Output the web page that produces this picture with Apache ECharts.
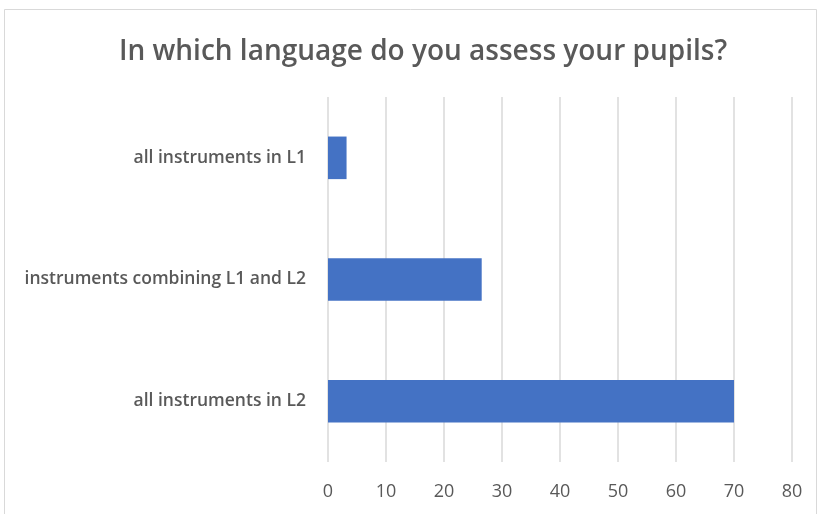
<!DOCTYPE html>
<html><head><meta charset="utf-8">
<script src="https://cdn.jsdelivr.net/npm/echarts@6/dist/echarts.min.js"></script>
<style>html,body{margin:0;padding:0;background:#fff}#c{width:820px;height:514px}</style>
</head><body><div id="c"></div>
<script>
const categories = ['all instruments in L2', 'instruments combining L1 and L2', 'all instruments in L1'];
const values = [70.0, 26.5, 3.2];
const xTicks = [0, 10, 20, 30, 40, 50, 60, 70, 80];

const chart = echarts.init(document.getElementById('c'), null, {renderer: 'canvas'});
chart.setOption({
  animation: false,
  backgroundColor: '#fff',
  graphic: [{type: 'rect', shape: {x: 4.5, y: 9.5, width: 812, height: 520}, style: {fill: 'none', stroke: '#d9d9d9', lineWidth: 1}}],
  title: {
    text: 'In which language do you assess your pupils?',
    left: 418, top: 33, textAlign: 'center',
    textStyle: {fontFamily: 'Open Sans', fontSize: 28, fontWeight: 600, color: '#595959'}
  },
  grid: {left: 328, right: 28, top: 97, bottom: 52, containLabel: false},
  xAxis: {
    type: 'value', min: xTicks[0], max: xTicks[xTicks.length - 1], interval: 10,
    axisLine: {show: false}, axisTick: {show: false},
    splitLine: {lineStyle: {color: '#d9d9d9', width: 1.5}},
    axisLabel: {color: '#595959', fontFamily: 'Open Sans', fontSize: 18, margin: 21}
  },
  yAxis: {
    type: 'category', data: categories,
    axisLine: {show: false}, axisTick: {show: false},
    axisLabel: {color: '#595959', fontFamily: 'Open Sans', fontSize: 17.5, fontWeight: 600, margin: 22}
  },
  series: [{
    type: 'bar', data: values, barWidth: '35%',
    itemStyle: {color: '#4472c4'}
  }]
});
</script></body></html>
